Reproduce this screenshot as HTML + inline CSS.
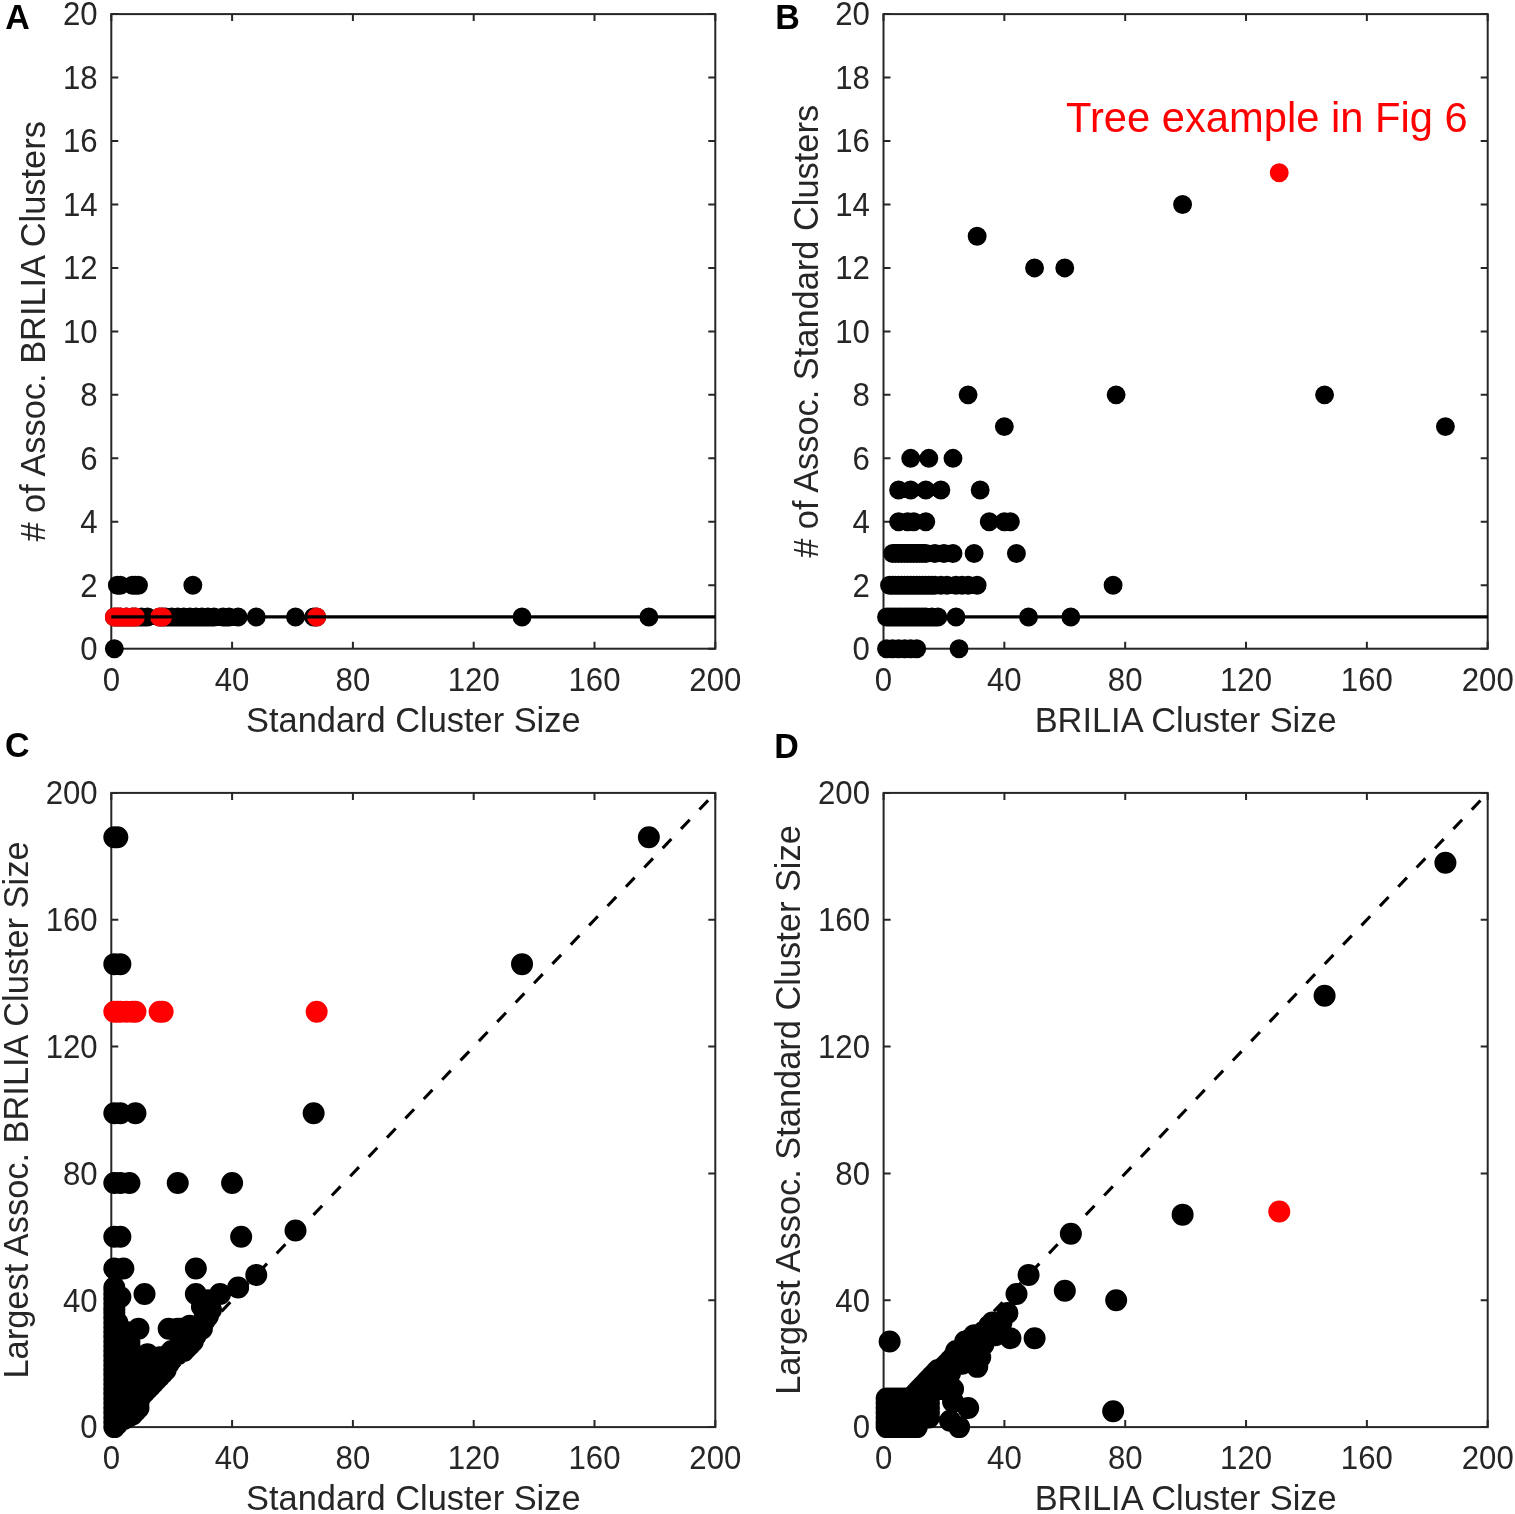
<!DOCTYPE html><html><head><meta charset="utf-8"><title>Cluster comparison</title><style>html,body{margin:0;padding:0;background:#fff;}svg{display:block;}text{font-family:"Liberation Sans",Arial,Helvetica,sans-serif;}</style></head><body>
<svg width="1515" height="1514" viewBox="0 0 1515 1514">
<rect width="1515" height="1514" fill="#fff"/>
<path d="M111.3 648.7V641.7M111.3 14.1V21.1M232.1 648.7V641.7M232.1 14.1V21.1M352.9 648.7V641.7M352.9 14.1V21.1M473.7 648.7V641.7M473.7 14.1V21.1M594.5 648.7V641.7M594.5 14.1V21.1M715.3 648.7V641.7M715.3 14.1V21.1M111.3 648.7H118.3M715.3 648.7H708.3M111.3 585.24H118.3M715.3 585.24H708.3M111.3 521.78H118.3M715.3 521.78H708.3M111.3 458.32H118.3M715.3 458.32H708.3M111.3 394.86H118.3M715.3 394.86H708.3M111.3 331.4H118.3M715.3 331.4H708.3M111.3 267.94H118.3M715.3 267.94H708.3M111.3 204.48H118.3M715.3 204.48H708.3M111.3 141.02H118.3M715.3 141.02H708.3M111.3 77.56H118.3M715.3 77.56H708.3M111.3 14.1H118.3M715.3 14.1H708.3" stroke="#262626" stroke-width="2.0" fill="none"/>
<rect x="111.3" y="14.1" width="604" height="634.6" stroke="#262626" stroke-width="2.0" fill="none"/>
<g font-size="31.2" fill="#262626"><text transform="translate(111.3 691) scale(1 1.04)" text-anchor="middle">0</text><text transform="translate(232.1 691) scale(1 1.04)" text-anchor="middle">40</text><text transform="translate(352.9 691) scale(1 1.04)" text-anchor="middle">80</text><text transform="translate(473.7 691) scale(1 1.04)" text-anchor="middle">120</text><text transform="translate(594.5 691) scale(1 1.04)" text-anchor="middle">160</text><text transform="translate(715.3 691) scale(1 1.04)" text-anchor="middle">200</text><text transform="translate(97.7 660) scale(1 1.04)" text-anchor="end">0</text><text transform="translate(97.7 596.54) scale(1 1.04)" text-anchor="end">2</text><text transform="translate(97.7 533.08) scale(1 1.04)" text-anchor="end">4</text><text transform="translate(97.7 469.62) scale(1 1.04)" text-anchor="end">6</text><text transform="translate(97.7 406.16) scale(1 1.04)" text-anchor="end">8</text><text transform="translate(97.7 342.7) scale(1 1.04)" text-anchor="end">10</text><text transform="translate(97.7 279.24) scale(1 1.04)" text-anchor="end">12</text><text transform="translate(97.7 215.78) scale(1 1.04)" text-anchor="end">14</text><text transform="translate(97.7 152.32) scale(1 1.04)" text-anchor="end">16</text><text transform="translate(97.7 88.86) scale(1 1.04)" text-anchor="end">18</text><text transform="translate(97.7 25.4) scale(1 1.04)" text-anchor="end">20</text></g>
<path d="M883.5 648.7V641.7M883.5 14.1V21.1M1004.34 648.7V641.7M1004.34 14.1V21.1M1125.18 648.7V641.7M1125.18 14.1V21.1M1246.02 648.7V641.7M1246.02 14.1V21.1M1366.86 648.7V641.7M1366.86 14.1V21.1M1487.7 648.7V641.7M1487.7 14.1V21.1M883.5 648.7H890.5M1487.7 648.7H1480.7M883.5 585.24H890.5M1487.7 585.24H1480.7M883.5 521.78H890.5M1487.7 521.78H1480.7M883.5 458.32H890.5M1487.7 458.32H1480.7M883.5 394.86H890.5M1487.7 394.86H1480.7M883.5 331.4H890.5M1487.7 331.4H1480.7M883.5 267.94H890.5M1487.7 267.94H1480.7M883.5 204.48H890.5M1487.7 204.48H1480.7M883.5 141.02H890.5M1487.7 141.02H1480.7M883.5 77.56H890.5M1487.7 77.56H1480.7M883.5 14.1H890.5M1487.7 14.1H1480.7" stroke="#262626" stroke-width="2.0" fill="none"/>
<rect x="883.5" y="14.1" width="604.2" height="634.6" stroke="#262626" stroke-width="2.0" fill="none"/>
<g font-size="31.2" fill="#262626"><text transform="translate(883.5 691) scale(1 1.04)" text-anchor="middle">0</text><text transform="translate(1004.34 691) scale(1 1.04)" text-anchor="middle">40</text><text transform="translate(1125.18 691) scale(1 1.04)" text-anchor="middle">80</text><text transform="translate(1246.02 691) scale(1 1.04)" text-anchor="middle">120</text><text transform="translate(1366.86 691) scale(1 1.04)" text-anchor="middle">160</text><text transform="translate(1487.7 691) scale(1 1.04)" text-anchor="middle">200</text><text transform="translate(869.9 660) scale(1 1.04)" text-anchor="end">0</text><text transform="translate(869.9 596.54) scale(1 1.04)" text-anchor="end">2</text><text transform="translate(869.9 533.08) scale(1 1.04)" text-anchor="end">4</text><text transform="translate(869.9 469.62) scale(1 1.04)" text-anchor="end">6</text><text transform="translate(869.9 406.16) scale(1 1.04)" text-anchor="end">8</text><text transform="translate(869.9 342.7) scale(1 1.04)" text-anchor="end">10</text><text transform="translate(869.9 279.24) scale(1 1.04)" text-anchor="end">12</text><text transform="translate(869.9 215.78) scale(1 1.04)" text-anchor="end">14</text><text transform="translate(869.9 152.32) scale(1 1.04)" text-anchor="end">16</text><text transform="translate(869.9 88.86) scale(1 1.04)" text-anchor="end">18</text><text transform="translate(869.9 25.4) scale(1 1.04)" text-anchor="end">20</text></g>
<path d="M111.3 1427.1V1420.1M111.3 792.9V799.9M232.1 1427.1V1420.1M232.1 792.9V799.9M352.9 1427.1V1420.1M352.9 792.9V799.9M473.7 1427.1V1420.1M473.7 792.9V799.9M594.5 1427.1V1420.1M594.5 792.9V799.9M715.3 1427.1V1420.1M715.3 792.9V799.9M111.3 1427.1H118.3M715.3 1427.1H708.3M111.3 1300.26H118.3M715.3 1300.26H708.3M111.3 1173.42H118.3M715.3 1173.42H708.3M111.3 1046.58H118.3M715.3 1046.58H708.3M111.3 919.74H118.3M715.3 919.74H708.3M111.3 792.9H118.3M715.3 792.9H708.3" stroke="#262626" stroke-width="2.0" fill="none"/>
<rect x="111.3" y="792.9" width="604" height="634.2" stroke="#262626" stroke-width="2.0" fill="none"/>
<g font-size="31.2" fill="#262626"><text transform="translate(111.3 1469.4) scale(1 1.04)" text-anchor="middle">0</text><text transform="translate(232.1 1469.4) scale(1 1.04)" text-anchor="middle">40</text><text transform="translate(352.9 1469.4) scale(1 1.04)" text-anchor="middle">80</text><text transform="translate(473.7 1469.4) scale(1 1.04)" text-anchor="middle">120</text><text transform="translate(594.5 1469.4) scale(1 1.04)" text-anchor="middle">160</text><text transform="translate(715.3 1469.4) scale(1 1.04)" text-anchor="middle">200</text><text transform="translate(97.7 1438.4) scale(1 1.04)" text-anchor="end">0</text><text transform="translate(97.7 1311.56) scale(1 1.04)" text-anchor="end">40</text><text transform="translate(97.7 1184.72) scale(1 1.04)" text-anchor="end">80</text><text transform="translate(97.7 1057.88) scale(1 1.04)" text-anchor="end">120</text><text transform="translate(97.7 931.04) scale(1 1.04)" text-anchor="end">160</text><text transform="translate(97.7 804.2) scale(1 1.04)" text-anchor="end">200</text></g>
<path d="M883.6 1427.1V1420.1M883.6 792.9V799.9M1004.42 1427.1V1420.1M1004.42 792.9V799.9M1125.24 1427.1V1420.1M1125.24 792.9V799.9M1246.06 1427.1V1420.1M1246.06 792.9V799.9M1366.88 1427.1V1420.1M1366.88 792.9V799.9M1487.7 1427.1V1420.1M1487.7 792.9V799.9M883.6 1427.1H890.6M1487.7 1427.1H1480.7M883.6 1300.26H890.6M1487.7 1300.26H1480.7M883.6 1173.42H890.6M1487.7 1173.42H1480.7M883.6 1046.58H890.6M1487.7 1046.58H1480.7M883.6 919.74H890.6M1487.7 919.74H1480.7M883.6 792.9H890.6M1487.7 792.9H1480.7" stroke="#262626" stroke-width="2.0" fill="none"/>
<rect x="883.6" y="792.9" width="604.1" height="634.2" stroke="#262626" stroke-width="2.0" fill="none"/>
<g font-size="31.2" fill="#262626"><text transform="translate(883.6 1469.4) scale(1 1.04)" text-anchor="middle">0</text><text transform="translate(1004.42 1469.4) scale(1 1.04)" text-anchor="middle">40</text><text transform="translate(1125.24 1469.4) scale(1 1.04)" text-anchor="middle">80</text><text transform="translate(1246.06 1469.4) scale(1 1.04)" text-anchor="middle">120</text><text transform="translate(1366.88 1469.4) scale(1 1.04)" text-anchor="middle">160</text><text transform="translate(1487.7 1469.4) scale(1 1.04)" text-anchor="middle">200</text><text transform="translate(870 1438.4) scale(1 1.04)" text-anchor="end">0</text><text transform="translate(870 1311.56) scale(1 1.04)" text-anchor="end">40</text><text transform="translate(870 1184.72) scale(1 1.04)" text-anchor="end">80</text><text transform="translate(870 1057.88) scale(1 1.04)" text-anchor="end">120</text><text transform="translate(870 931.04) scale(1 1.04)" text-anchor="end">160</text><text transform="translate(870 804.2) scale(1 1.04)" text-anchor="end">200</text></g>
<path fill="#000" d="M104.87 648.7a9.45 9.45 0 1 0 18.9 0a9.45 9.45 0 1 0 -18.9 0ZM107.89 585.24a9.45 9.45 0 1 0 18.9 0a9.45 9.45 0 1 0 -18.9 0ZM110.91 585.24a9.45 9.45 0 1 0 18.9 0a9.45 9.45 0 1 0 -18.9 0ZM122.99 585.24a9.45 9.45 0 1 0 18.9 0a9.45 9.45 0 1 0 -18.9 0ZM126.01 585.24a9.45 9.45 0 1 0 18.9 0a9.45 9.45 0 1 0 -18.9 0ZM129.03 585.24a9.45 9.45 0 1 0 18.9 0a9.45 9.45 0 1 0 -18.9 0ZM183.39 585.24a9.45 9.45 0 1 0 18.9 0a9.45 9.45 0 1 0 -18.9 0ZM104.87 616.97a9.45 9.45 0 1 0 18.9 0a9.45 9.45 0 1 0 -18.9 0ZM107.89 616.97a9.45 9.45 0 1 0 18.9 0a9.45 9.45 0 1 0 -18.9 0ZM110.91 616.97a9.45 9.45 0 1 0 18.9 0a9.45 9.45 0 1 0 -18.9 0ZM116.95 616.97a9.45 9.45 0 1 0 18.9 0a9.45 9.45 0 1 0 -18.9 0ZM122.99 616.97a9.45 9.45 0 1 0 18.9 0a9.45 9.45 0 1 0 -18.9 0ZM126.01 616.97a9.45 9.45 0 1 0 18.9 0a9.45 9.45 0 1 0 -18.9 0ZM150.17 616.97a9.45 9.45 0 1 0 18.9 0a9.45 9.45 0 1 0 -18.9 0ZM153.19 616.97a9.45 9.45 0 1 0 18.9 0a9.45 9.45 0 1 0 -18.9 0ZM307.21 616.97a9.45 9.45 0 1 0 18.9 0a9.45 9.45 0 1 0 -18.9 0ZM132.05 616.97a9.45 9.45 0 1 0 18.9 0a9.45 9.45 0 1 0 -18.9 0ZM138.09 616.97a9.45 9.45 0 1 0 18.9 0a9.45 9.45 0 1 0 -18.9 0ZM156.21 616.97a9.45 9.45 0 1 0 18.9 0a9.45 9.45 0 1 0 -18.9 0ZM162.25 616.97a9.45 9.45 0 1 0 18.9 0a9.45 9.45 0 1 0 -18.9 0ZM168.29 616.97a9.45 9.45 0 1 0 18.9 0a9.45 9.45 0 1 0 -18.9 0ZM174.33 616.97a9.45 9.45 0 1 0 18.9 0a9.45 9.45 0 1 0 -18.9 0ZM180.37 616.97a9.45 9.45 0 1 0 18.9 0a9.45 9.45 0 1 0 -18.9 0ZM186.41 616.97a9.45 9.45 0 1 0 18.9 0a9.45 9.45 0 1 0 -18.9 0ZM192.45 616.97a9.45 9.45 0 1 0 18.9 0a9.45 9.45 0 1 0 -18.9 0ZM198.49 616.97a9.45 9.45 0 1 0 18.9 0a9.45 9.45 0 1 0 -18.9 0ZM204.53 616.97a9.45 9.45 0 1 0 18.9 0a9.45 9.45 0 1 0 -18.9 0ZM213.59 616.97a9.45 9.45 0 1 0 18.9 0a9.45 9.45 0 1 0 -18.9 0ZM219.63 616.97a9.45 9.45 0 1 0 18.9 0a9.45 9.45 0 1 0 -18.9 0ZM228.69 616.97a9.45 9.45 0 1 0 18.9 0a9.45 9.45 0 1 0 -18.9 0ZM246.81 616.97a9.45 9.45 0 1 0 18.9 0a9.45 9.45 0 1 0 -18.9 0ZM286.07 616.97a9.45 9.45 0 1 0 18.9 0a9.45 9.45 0 1 0 -18.9 0ZM304.19 616.97a9.45 9.45 0 1 0 18.9 0a9.45 9.45 0 1 0 -18.9 0ZM512.57 616.97a9.45 9.45 0 1 0 18.9 0a9.45 9.45 0 1 0 -18.9 0ZM639.41 616.97a9.45 9.45 0 1 0 18.9 0a9.45 9.45 0 1 0 -18.9 0Z"/>
<path fill="#f00" d="M104.87 616.97a9.45 9.45 0 1 0 18.9 0a9.45 9.45 0 1 0 -18.9 0ZM107.89 616.97a9.45 9.45 0 1 0 18.9 0a9.45 9.45 0 1 0 -18.9 0ZM110.91 616.97a9.45 9.45 0 1 0 18.9 0a9.45 9.45 0 1 0 -18.9 0ZM116.95 616.97a9.45 9.45 0 1 0 18.9 0a9.45 9.45 0 1 0 -18.9 0ZM122.99 616.97a9.45 9.45 0 1 0 18.9 0a9.45 9.45 0 1 0 -18.9 0ZM126.01 616.97a9.45 9.45 0 1 0 18.9 0a9.45 9.45 0 1 0 -18.9 0ZM150.17 616.97a9.45 9.45 0 1 0 18.9 0a9.45 9.45 0 1 0 -18.9 0ZM153.19 616.97a9.45 9.45 0 1 0 18.9 0a9.45 9.45 0 1 0 -18.9 0ZM307.21 616.97a9.45 9.45 0 1 0 18.9 0a9.45 9.45 0 1 0 -18.9 0Z"/>
<line x1="111.3" y1="616.97" x2="715.3" y2="616.97" stroke="#000" stroke-width="3.2"/>
<path fill="#000" d="M877.07 648.7a9.45 9.45 0 1 0 18.9 0a9.45 9.45 0 1 0 -18.9 0ZM883.11 648.7a9.45 9.45 0 1 0 18.9 0a9.45 9.45 0 1 0 -18.9 0ZM889.15 648.7a9.45 9.45 0 1 0 18.9 0a9.45 9.45 0 1 0 -18.9 0ZM895.2 648.7a9.45 9.45 0 1 0 18.9 0a9.45 9.45 0 1 0 -18.9 0ZM901.24 648.7a9.45 9.45 0 1 0 18.9 0a9.45 9.45 0 1 0 -18.9 0ZM907.28 648.7a9.45 9.45 0 1 0 18.9 0a9.45 9.45 0 1 0 -18.9 0ZM949.57 648.7a9.45 9.45 0 1 0 18.9 0a9.45 9.45 0 1 0 -18.9 0ZM877.07 616.97a9.45 9.45 0 1 0 18.9 0a9.45 9.45 0 1 0 -18.9 0ZM880.09 616.97a9.45 9.45 0 1 0 18.9 0a9.45 9.45 0 1 0 -18.9 0ZM883.11 616.97a9.45 9.45 0 1 0 18.9 0a9.45 9.45 0 1 0 -18.9 0ZM886.13 616.97a9.45 9.45 0 1 0 18.9 0a9.45 9.45 0 1 0 -18.9 0ZM889.15 616.97a9.45 9.45 0 1 0 18.9 0a9.45 9.45 0 1 0 -18.9 0ZM892.18 616.97a9.45 9.45 0 1 0 18.9 0a9.45 9.45 0 1 0 -18.9 0ZM895.2 616.97a9.45 9.45 0 1 0 18.9 0a9.45 9.45 0 1 0 -18.9 0ZM898.22 616.97a9.45 9.45 0 1 0 18.9 0a9.45 9.45 0 1 0 -18.9 0ZM901.24 616.97a9.45 9.45 0 1 0 18.9 0a9.45 9.45 0 1 0 -18.9 0ZM904.26 616.97a9.45 9.45 0 1 0 18.9 0a9.45 9.45 0 1 0 -18.9 0ZM907.28 616.97a9.45 9.45 0 1 0 18.9 0a9.45 9.45 0 1 0 -18.9 0ZM910.3 616.97a9.45 9.45 0 1 0 18.9 0a9.45 9.45 0 1 0 -18.9 0ZM913.32 616.97a9.45 9.45 0 1 0 18.9 0a9.45 9.45 0 1 0 -18.9 0ZM916.34 616.97a9.45 9.45 0 1 0 18.9 0a9.45 9.45 0 1 0 -18.9 0ZM922.39 616.97a9.45 9.45 0 1 0 18.9 0a9.45 9.45 0 1 0 -18.9 0ZM928.43 616.97a9.45 9.45 0 1 0 18.9 0a9.45 9.45 0 1 0 -18.9 0ZM946.55 616.97a9.45 9.45 0 1 0 18.9 0a9.45 9.45 0 1 0 -18.9 0ZM1019.06 616.97a9.45 9.45 0 1 0 18.9 0a9.45 9.45 0 1 0 -18.9 0ZM1061.35 616.97a9.45 9.45 0 1 0 18.9 0a9.45 9.45 0 1 0 -18.9 0ZM880.09 585.24a9.45 9.45 0 1 0 18.9 0a9.45 9.45 0 1 0 -18.9 0ZM883.11 585.24a9.45 9.45 0 1 0 18.9 0a9.45 9.45 0 1 0 -18.9 0ZM886.13 585.24a9.45 9.45 0 1 0 18.9 0a9.45 9.45 0 1 0 -18.9 0ZM889.15 585.24a9.45 9.45 0 1 0 18.9 0a9.45 9.45 0 1 0 -18.9 0ZM892.18 585.24a9.45 9.45 0 1 0 18.9 0a9.45 9.45 0 1 0 -18.9 0ZM895.2 585.24a9.45 9.45 0 1 0 18.9 0a9.45 9.45 0 1 0 -18.9 0ZM898.22 585.24a9.45 9.45 0 1 0 18.9 0a9.45 9.45 0 1 0 -18.9 0ZM901.24 585.24a9.45 9.45 0 1 0 18.9 0a9.45 9.45 0 1 0 -18.9 0ZM904.26 585.24a9.45 9.45 0 1 0 18.9 0a9.45 9.45 0 1 0 -18.9 0ZM907.28 585.24a9.45 9.45 0 1 0 18.9 0a9.45 9.45 0 1 0 -18.9 0ZM910.3 585.24a9.45 9.45 0 1 0 18.9 0a9.45 9.45 0 1 0 -18.9 0ZM913.32 585.24a9.45 9.45 0 1 0 18.9 0a9.45 9.45 0 1 0 -18.9 0ZM916.34 585.24a9.45 9.45 0 1 0 18.9 0a9.45 9.45 0 1 0 -18.9 0ZM919.37 585.24a9.45 9.45 0 1 0 18.9 0a9.45 9.45 0 1 0 -18.9 0ZM922.39 585.24a9.45 9.45 0 1 0 18.9 0a9.45 9.45 0 1 0 -18.9 0ZM925.41 585.24a9.45 9.45 0 1 0 18.9 0a9.45 9.45 0 1 0 -18.9 0ZM931.45 585.24a9.45 9.45 0 1 0 18.9 0a9.45 9.45 0 1 0 -18.9 0ZM937.49 585.24a9.45 9.45 0 1 0 18.9 0a9.45 9.45 0 1 0 -18.9 0ZM946.55 585.24a9.45 9.45 0 1 0 18.9 0a9.45 9.45 0 1 0 -18.9 0ZM952.6 585.24a9.45 9.45 0 1 0 18.9 0a9.45 9.45 0 1 0 -18.9 0ZM958.64 585.24a9.45 9.45 0 1 0 18.9 0a9.45 9.45 0 1 0 -18.9 0ZM967.7 585.24a9.45 9.45 0 1 0 18.9 0a9.45 9.45 0 1 0 -18.9 0ZM1103.65 585.24a9.45 9.45 0 1 0 18.9 0a9.45 9.45 0 1 0 -18.9 0ZM883.11 553.51a9.45 9.45 0 1 0 18.9 0a9.45 9.45 0 1 0 -18.9 0ZM886.13 553.51a9.45 9.45 0 1 0 18.9 0a9.45 9.45 0 1 0 -18.9 0ZM889.15 553.51a9.45 9.45 0 1 0 18.9 0a9.45 9.45 0 1 0 -18.9 0ZM892.18 553.51a9.45 9.45 0 1 0 18.9 0a9.45 9.45 0 1 0 -18.9 0ZM895.2 553.51a9.45 9.45 0 1 0 18.9 0a9.45 9.45 0 1 0 -18.9 0ZM898.22 553.51a9.45 9.45 0 1 0 18.9 0a9.45 9.45 0 1 0 -18.9 0ZM901.24 553.51a9.45 9.45 0 1 0 18.9 0a9.45 9.45 0 1 0 -18.9 0ZM904.26 553.51a9.45 9.45 0 1 0 18.9 0a9.45 9.45 0 1 0 -18.9 0ZM907.28 553.51a9.45 9.45 0 1 0 18.9 0a9.45 9.45 0 1 0 -18.9 0ZM910.3 553.51a9.45 9.45 0 1 0 18.9 0a9.45 9.45 0 1 0 -18.9 0ZM913.32 553.51a9.45 9.45 0 1 0 18.9 0a9.45 9.45 0 1 0 -18.9 0ZM916.34 553.51a9.45 9.45 0 1 0 18.9 0a9.45 9.45 0 1 0 -18.9 0ZM925.41 553.51a9.45 9.45 0 1 0 18.9 0a9.45 9.45 0 1 0 -18.9 0ZM934.47 553.51a9.45 9.45 0 1 0 18.9 0a9.45 9.45 0 1 0 -18.9 0ZM943.53 553.51a9.45 9.45 0 1 0 18.9 0a9.45 9.45 0 1 0 -18.9 0ZM964.68 553.51a9.45 9.45 0 1 0 18.9 0a9.45 9.45 0 1 0 -18.9 0ZM1006.97 553.51a9.45 9.45 0 1 0 18.9 0a9.45 9.45 0 1 0 -18.9 0ZM889.15 521.78a9.45 9.45 0 1 0 18.9 0a9.45 9.45 0 1 0 -18.9 0ZM898.22 521.78a9.45 9.45 0 1 0 18.9 0a9.45 9.45 0 1 0 -18.9 0ZM904.26 521.78a9.45 9.45 0 1 0 18.9 0a9.45 9.45 0 1 0 -18.9 0ZM916.34 521.78a9.45 9.45 0 1 0 18.9 0a9.45 9.45 0 1 0 -18.9 0ZM979.78 521.78a9.45 9.45 0 1 0 18.9 0a9.45 9.45 0 1 0 -18.9 0ZM994.89 521.78a9.45 9.45 0 1 0 18.9 0a9.45 9.45 0 1 0 -18.9 0ZM1000.93 521.78a9.45 9.45 0 1 0 18.9 0a9.45 9.45 0 1 0 -18.9 0ZM889.15 490.05a9.45 9.45 0 1 0 18.9 0a9.45 9.45 0 1 0 -18.9 0ZM901.24 490.05a9.45 9.45 0 1 0 18.9 0a9.45 9.45 0 1 0 -18.9 0ZM916.34 490.05a9.45 9.45 0 1 0 18.9 0a9.45 9.45 0 1 0 -18.9 0ZM931.45 490.05a9.45 9.45 0 1 0 18.9 0a9.45 9.45 0 1 0 -18.9 0ZM970.72 490.05a9.45 9.45 0 1 0 18.9 0a9.45 9.45 0 1 0 -18.9 0ZM901.24 458.32a9.45 9.45 0 1 0 18.9 0a9.45 9.45 0 1 0 -18.9 0ZM919.37 458.32a9.45 9.45 0 1 0 18.9 0a9.45 9.45 0 1 0 -18.9 0ZM943.53 458.32a9.45 9.45 0 1 0 18.9 0a9.45 9.45 0 1 0 -18.9 0ZM994.89 426.59a9.45 9.45 0 1 0 18.9 0a9.45 9.45 0 1 0 -18.9 0ZM1435.96 426.59a9.45 9.45 0 1 0 18.9 0a9.45 9.45 0 1 0 -18.9 0ZM958.64 394.86a9.45 9.45 0 1 0 18.9 0a9.45 9.45 0 1 0 -18.9 0ZM1106.67 394.86a9.45 9.45 0 1 0 18.9 0a9.45 9.45 0 1 0 -18.9 0ZM1315.12 394.86a9.45 9.45 0 1 0 18.9 0a9.45 9.45 0 1 0 -18.9 0ZM1025.1 267.94a9.45 9.45 0 1 0 18.9 0a9.45 9.45 0 1 0 -18.9 0ZM1055.31 267.94a9.45 9.45 0 1 0 18.9 0a9.45 9.45 0 1 0 -18.9 0ZM967.7 236.21a9.45 9.45 0 1 0 18.9 0a9.45 9.45 0 1 0 -18.9 0ZM1173.13 204.48a9.45 9.45 0 1 0 18.9 0a9.45 9.45 0 1 0 -18.9 0Z"/>
<path fill="#f00" d="M1269.8 172.75a9.45 9.45 0 1 0 18.9 0a9.45 9.45 0 1 0 -18.9 0Z"/>
<line x1="883.5" y1="616.97" x2="1487.7" y2="616.97" stroke="#000" stroke-width="3.2"/>
<path fill="#000" d="M103.32 837.29a11 11 0 1 0 22 0a11 11 0 1 0 -22 0ZM106.34 837.29a11 11 0 1 0 22 0a11 11 0 1 0 -22 0ZM637.86 837.29a11 11 0 1 0 22 0a11 11 0 1 0 -22 0ZM103.32 964.13a11 11 0 1 0 22 0a11 11 0 1 0 -22 0ZM109.36 964.13a11 11 0 1 0 22 0a11 11 0 1 0 -22 0ZM511.02 964.13a11 11 0 1 0 22 0a11 11 0 1 0 -22 0ZM103.32 1113.17a11 11 0 1 0 22 0a11 11 0 1 0 -22 0ZM109.36 1113.17a11 11 0 1 0 22 0a11 11 0 1 0 -22 0ZM124.46 1113.17a11 11 0 1 0 22 0a11 11 0 1 0 -22 0ZM302.64 1113.17a11 11 0 1 0 22 0a11 11 0 1 0 -22 0ZM103.32 1182.93a11 11 0 1 0 22 0a11 11 0 1 0 -22 0ZM109.36 1182.93a11 11 0 1 0 22 0a11 11 0 1 0 -22 0ZM118.42 1182.93a11 11 0 1 0 22 0a11 11 0 1 0 -22 0ZM166.74 1182.93a11 11 0 1 0 22 0a11 11 0 1 0 -22 0ZM221.1 1182.93a11 11 0 1 0 22 0a11 11 0 1 0 -22 0ZM103.32 1236.84a11 11 0 1 0 22 0a11 11 0 1 0 -22 0ZM109.36 1236.84a11 11 0 1 0 22 0a11 11 0 1 0 -22 0ZM230.16 1236.84a11 11 0 1 0 22 0a11 11 0 1 0 -22 0ZM284.52 1230.5a11 11 0 1 0 22 0a11 11 0 1 0 -22 0ZM103.32 1268.55a11 11 0 1 0 22 0a11 11 0 1 0 -22 0ZM112.38 1268.55a11 11 0 1 0 22 0a11 11 0 1 0 -22 0ZM184.86 1268.55a11 11 0 1 0 22 0a11 11 0 1 0 -22 0ZM245.26 1274.89a11 11 0 1 0 22 0a11 11 0 1 0 -22 0ZM133.52 1293.92a11 11 0 1 0 22 0a11 11 0 1 0 -22 0ZM184.86 1293.92a11 11 0 1 0 22 0a11 11 0 1 0 -22 0ZM209.02 1293.92a11 11 0 1 0 22 0a11 11 0 1 0 -22 0ZM227.14 1287.58a11 11 0 1 0 22 0a11 11 0 1 0 -22 0ZM196.94 1300.26a11 11 0 1 0 22 0a11 11 0 1 0 -22 0ZM199.96 1309.77a11 11 0 1 0 22 0a11 11 0 1 0 -22 0ZM190.9 1306.6a11 11 0 1 0 22 0a11 11 0 1 0 -22 0ZM127.48 1328.8a11 11 0 1 0 22 0a11 11 0 1 0 -22 0ZM157.68 1328.8a11 11 0 1 0 22 0a11 11 0 1 0 -22 0ZM166.74 1328.8a11 11 0 1 0 22 0a11 11 0 1 0 -22 0ZM178.82 1325.63a11 11 0 1 0 22 0a11 11 0 1 0 -22 0ZM187.88 1328.8a11 11 0 1 0 22 0a11 11 0 1 0 -22 0ZM196.94 1316.12a11 11 0 1 0 22 0a11 11 0 1 0 -22 0ZM136.54 1354.17a11 11 0 1 0 22 0a11 11 0 1 0 -22 0ZM148.62 1357.34a11 11 0 1 0 22 0a11 11 0 1 0 -22 0ZM160.7 1351a11 11 0 1 0 22 0a11 11 0 1 0 -22 0ZM154.66 1370.02a11 11 0 1 0 22 0a11 11 0 1 0 -22 0ZM172.78 1351a11 11 0 1 0 22 0a11 11 0 1 0 -22 0ZM181.84 1341.48a11 11 0 1 0 22 0a11 11 0 1 0 -22 0ZM103.32 1287.58a11 11 0 1 0 22 0a11 11 0 1 0 -22 0ZM109.36 1297.09a11 11 0 1 0 22 0a11 11 0 1 0 -22 0ZM103.32 1309.77a11 11 0 1 0 22 0a11 11 0 1 0 -22 0ZM106.34 1322.46a11 11 0 1 0 22 0a11 11 0 1 0 -22 0ZM103.32 1427.1a11 11 0 1 0 22 0a11 11 0 1 0 -22 0ZM103.32 1422.34a11 11 0 1 0 22 0a11 11 0 1 0 -22 0ZM103.32 1417.59a11 11 0 1 0 22 0a11 11 0 1 0 -22 0ZM103.32 1412.83a11 11 0 1 0 22 0a11 11 0 1 0 -22 0ZM103.32 1408.07a11 11 0 1 0 22 0a11 11 0 1 0 -22 0ZM103.32 1403.32a11 11 0 1 0 22 0a11 11 0 1 0 -22 0ZM103.32 1398.56a11 11 0 1 0 22 0a11 11 0 1 0 -22 0ZM103.32 1393.8a11 11 0 1 0 22 0a11 11 0 1 0 -22 0ZM103.32 1389.05a11 11 0 1 0 22 0a11 11 0 1 0 -22 0ZM103.32 1384.29a11 11 0 1 0 22 0a11 11 0 1 0 -22 0ZM103.32 1379.53a11 11 0 1 0 22 0a11 11 0 1 0 -22 0ZM103.32 1374.78a11 11 0 1 0 22 0a11 11 0 1 0 -22 0ZM103.32 1370.02a11 11 0 1 0 22 0a11 11 0 1 0 -22 0ZM103.32 1365.27a11 11 0 1 0 22 0a11 11 0 1 0 -22 0ZM103.32 1360.51a11 11 0 1 0 22 0a11 11 0 1 0 -22 0ZM103.32 1355.75a11 11 0 1 0 22 0a11 11 0 1 0 -22 0ZM103.32 1351a11 11 0 1 0 22 0a11 11 0 1 0 -22 0ZM103.32 1346.24a11 11 0 1 0 22 0a11 11 0 1 0 -22 0ZM103.32 1341.48a11 11 0 1 0 22 0a11 11 0 1 0 -22 0ZM103.32 1336.73a11 11 0 1 0 22 0a11 11 0 1 0 -22 0ZM103.32 1331.97a11 11 0 1 0 22 0a11 11 0 1 0 -22 0ZM103.32 1327.21a11 11 0 1 0 22 0a11 11 0 1 0 -22 0ZM103.32 1322.46a11 11 0 1 0 22 0a11 11 0 1 0 -22 0ZM103.32 1317.7a11 11 0 1 0 22 0a11 11 0 1 0 -22 0ZM103.32 1312.94a11 11 0 1 0 22 0a11 11 0 1 0 -22 0ZM103.32 1308.19a11 11 0 1 0 22 0a11 11 0 1 0 -22 0ZM103.32 1303.43a11 11 0 1 0 22 0a11 11 0 1 0 -22 0ZM103.32 1298.67a11 11 0 1 0 22 0a11 11 0 1 0 -22 0ZM103.32 1293.92a11 11 0 1 0 22 0a11 11 0 1 0 -22 0ZM103.32 1289.16a11 11 0 1 0 22 0a11 11 0 1 0 -22 0ZM106.34 1423.93a11 11 0 1 0 22 0a11 11 0 1 0 -22 0ZM106.34 1419.17a11 11 0 1 0 22 0a11 11 0 1 0 -22 0ZM106.34 1414.42a11 11 0 1 0 22 0a11 11 0 1 0 -22 0ZM106.34 1409.66a11 11 0 1 0 22 0a11 11 0 1 0 -22 0ZM106.34 1404.9a11 11 0 1 0 22 0a11 11 0 1 0 -22 0ZM106.34 1400.15a11 11 0 1 0 22 0a11 11 0 1 0 -22 0ZM106.34 1395.39a11 11 0 1 0 22 0a11 11 0 1 0 -22 0ZM106.34 1390.63a11 11 0 1 0 22 0a11 11 0 1 0 -22 0ZM106.34 1385.88a11 11 0 1 0 22 0a11 11 0 1 0 -22 0ZM106.34 1381.12a11 11 0 1 0 22 0a11 11 0 1 0 -22 0ZM106.34 1376.36a11 11 0 1 0 22 0a11 11 0 1 0 -22 0ZM106.34 1371.61a11 11 0 1 0 22 0a11 11 0 1 0 -22 0ZM106.34 1366.85a11 11 0 1 0 22 0a11 11 0 1 0 -22 0ZM106.34 1362.09a11 11 0 1 0 22 0a11 11 0 1 0 -22 0ZM106.34 1357.34a11 11 0 1 0 22 0a11 11 0 1 0 -22 0ZM106.34 1352.58a11 11 0 1 0 22 0a11 11 0 1 0 -22 0ZM106.34 1347.82a11 11 0 1 0 22 0a11 11 0 1 0 -22 0ZM106.34 1343.07a11 11 0 1 0 22 0a11 11 0 1 0 -22 0ZM106.34 1338.31a11 11 0 1 0 22 0a11 11 0 1 0 -22 0ZM106.34 1333.56a11 11 0 1 0 22 0a11 11 0 1 0 -22 0ZM106.34 1331.97a11 11 0 1 0 22 0a11 11 0 1 0 -22 0ZM109.36 1420.76a11 11 0 1 0 22 0a11 11 0 1 0 -22 0ZM109.36 1416a11 11 0 1 0 22 0a11 11 0 1 0 -22 0ZM109.36 1411.24a11 11 0 1 0 22 0a11 11 0 1 0 -22 0ZM109.36 1406.49a11 11 0 1 0 22 0a11 11 0 1 0 -22 0ZM109.36 1401.73a11 11 0 1 0 22 0a11 11 0 1 0 -22 0ZM109.36 1396.98a11 11 0 1 0 22 0a11 11 0 1 0 -22 0ZM109.36 1392.22a11 11 0 1 0 22 0a11 11 0 1 0 -22 0ZM109.36 1387.46a11 11 0 1 0 22 0a11 11 0 1 0 -22 0ZM109.36 1382.71a11 11 0 1 0 22 0a11 11 0 1 0 -22 0ZM109.36 1377.95a11 11 0 1 0 22 0a11 11 0 1 0 -22 0ZM109.36 1373.19a11 11 0 1 0 22 0a11 11 0 1 0 -22 0ZM109.36 1368.44a11 11 0 1 0 22 0a11 11 0 1 0 -22 0ZM109.36 1363.68a11 11 0 1 0 22 0a11 11 0 1 0 -22 0ZM109.36 1358.92a11 11 0 1 0 22 0a11 11 0 1 0 -22 0ZM109.36 1354.17a11 11 0 1 0 22 0a11 11 0 1 0 -22 0ZM109.36 1349.41a11 11 0 1 0 22 0a11 11 0 1 0 -22 0ZM109.36 1344.65a11 11 0 1 0 22 0a11 11 0 1 0 -22 0ZM109.36 1339.9a11 11 0 1 0 22 0a11 11 0 1 0 -22 0ZM109.36 1335.14a11 11 0 1 0 22 0a11 11 0 1 0 -22 0ZM109.36 1331.97a11 11 0 1 0 22 0a11 11 0 1 0 -22 0ZM112.38 1419.17a11 11 0 1 0 22 0a11 11 0 1 0 -22 0ZM112.38 1414.42a11 11 0 1 0 22 0a11 11 0 1 0 -22 0ZM112.38 1409.66a11 11 0 1 0 22 0a11 11 0 1 0 -22 0ZM112.38 1404.9a11 11 0 1 0 22 0a11 11 0 1 0 -22 0ZM112.38 1400.15a11 11 0 1 0 22 0a11 11 0 1 0 -22 0ZM112.38 1395.39a11 11 0 1 0 22 0a11 11 0 1 0 -22 0ZM112.38 1390.63a11 11 0 1 0 22 0a11 11 0 1 0 -22 0ZM112.38 1385.88a11 11 0 1 0 22 0a11 11 0 1 0 -22 0ZM112.38 1381.12a11 11 0 1 0 22 0a11 11 0 1 0 -22 0ZM112.38 1376.36a11 11 0 1 0 22 0a11 11 0 1 0 -22 0ZM112.38 1371.61a11 11 0 1 0 22 0a11 11 0 1 0 -22 0ZM112.38 1366.85a11 11 0 1 0 22 0a11 11 0 1 0 -22 0ZM112.38 1362.09a11 11 0 1 0 22 0a11 11 0 1 0 -22 0ZM112.38 1357.34a11 11 0 1 0 22 0a11 11 0 1 0 -22 0ZM112.38 1352.58a11 11 0 1 0 22 0a11 11 0 1 0 -22 0ZM112.38 1347.82a11 11 0 1 0 22 0a11 11 0 1 0 -22 0ZM112.38 1343.07a11 11 0 1 0 22 0a11 11 0 1 0 -22 0ZM112.38 1338.31a11 11 0 1 0 22 0a11 11 0 1 0 -22 0ZM112.38 1333.56a11 11 0 1 0 22 0a11 11 0 1 0 -22 0ZM112.38 1331.97a11 11 0 1 0 22 0a11 11 0 1 0 -22 0ZM115.4 1417.59a11 11 0 1 0 22 0a11 11 0 1 0 -22 0ZM115.4 1412.83a11 11 0 1 0 22 0a11 11 0 1 0 -22 0ZM115.4 1408.07a11 11 0 1 0 22 0a11 11 0 1 0 -22 0ZM115.4 1403.32a11 11 0 1 0 22 0a11 11 0 1 0 -22 0ZM115.4 1398.56a11 11 0 1 0 22 0a11 11 0 1 0 -22 0ZM115.4 1393.8a11 11 0 1 0 22 0a11 11 0 1 0 -22 0ZM115.4 1389.05a11 11 0 1 0 22 0a11 11 0 1 0 -22 0ZM115.4 1384.29a11 11 0 1 0 22 0a11 11 0 1 0 -22 0ZM115.4 1379.53a11 11 0 1 0 22 0a11 11 0 1 0 -22 0ZM115.4 1374.78a11 11 0 1 0 22 0a11 11 0 1 0 -22 0ZM115.4 1370.02a11 11 0 1 0 22 0a11 11 0 1 0 -22 0ZM115.4 1365.27a11 11 0 1 0 22 0a11 11 0 1 0 -22 0ZM115.4 1360.51a11 11 0 1 0 22 0a11 11 0 1 0 -22 0ZM115.4 1355.75a11 11 0 1 0 22 0a11 11 0 1 0 -22 0ZM115.4 1351a11 11 0 1 0 22 0a11 11 0 1 0 -22 0ZM115.4 1346.24a11 11 0 1 0 22 0a11 11 0 1 0 -22 0ZM115.4 1341.48a11 11 0 1 0 22 0a11 11 0 1 0 -22 0ZM115.4 1336.73a11 11 0 1 0 22 0a11 11 0 1 0 -22 0ZM115.4 1331.97a11 11 0 1 0 22 0a11 11 0 1 0 -22 0ZM118.42 1416a11 11 0 1 0 22 0a11 11 0 1 0 -22 0ZM118.42 1411.24a11 11 0 1 0 22 0a11 11 0 1 0 -22 0ZM118.42 1406.49a11 11 0 1 0 22 0a11 11 0 1 0 -22 0ZM118.42 1401.73a11 11 0 1 0 22 0a11 11 0 1 0 -22 0ZM118.42 1396.98a11 11 0 1 0 22 0a11 11 0 1 0 -22 0ZM118.42 1392.22a11 11 0 1 0 22 0a11 11 0 1 0 -22 0ZM118.42 1387.46a11 11 0 1 0 22 0a11 11 0 1 0 -22 0ZM118.42 1382.71a11 11 0 1 0 22 0a11 11 0 1 0 -22 0ZM118.42 1377.95a11 11 0 1 0 22 0a11 11 0 1 0 -22 0ZM118.42 1373.19a11 11 0 1 0 22 0a11 11 0 1 0 -22 0ZM118.42 1368.44a11 11 0 1 0 22 0a11 11 0 1 0 -22 0ZM118.42 1363.68a11 11 0 1 0 22 0a11 11 0 1 0 -22 0ZM118.42 1358.92a11 11 0 1 0 22 0a11 11 0 1 0 -22 0ZM118.42 1354.17a11 11 0 1 0 22 0a11 11 0 1 0 -22 0ZM118.42 1349.41a11 11 0 1 0 22 0a11 11 0 1 0 -22 0ZM118.42 1344.65a11 11 0 1 0 22 0a11 11 0 1 0 -22 0ZM118.42 1341.48a11 11 0 1 0 22 0a11 11 0 1 0 -22 0ZM121.44 1414.42a11 11 0 1 0 22 0a11 11 0 1 0 -22 0ZM121.44 1409.66a11 11 0 1 0 22 0a11 11 0 1 0 -22 0ZM121.44 1404.9a11 11 0 1 0 22 0a11 11 0 1 0 -22 0ZM121.44 1400.15a11 11 0 1 0 22 0a11 11 0 1 0 -22 0ZM121.44 1395.39a11 11 0 1 0 22 0a11 11 0 1 0 -22 0ZM121.44 1390.63a11 11 0 1 0 22 0a11 11 0 1 0 -22 0ZM121.44 1385.88a11 11 0 1 0 22 0a11 11 0 1 0 -22 0ZM121.44 1381.12a11 11 0 1 0 22 0a11 11 0 1 0 -22 0ZM121.44 1376.36a11 11 0 1 0 22 0a11 11 0 1 0 -22 0ZM121.44 1371.61a11 11 0 1 0 22 0a11 11 0 1 0 -22 0ZM121.44 1366.85a11 11 0 1 0 22 0a11 11 0 1 0 -22 0ZM121.44 1362.09a11 11 0 1 0 22 0a11 11 0 1 0 -22 0ZM121.44 1357.34a11 11 0 1 0 22 0a11 11 0 1 0 -22 0ZM124.46 1411.24a11 11 0 1 0 22 0a11 11 0 1 0 -22 0ZM124.46 1406.49a11 11 0 1 0 22 0a11 11 0 1 0 -22 0ZM124.46 1401.73a11 11 0 1 0 22 0a11 11 0 1 0 -22 0ZM124.46 1396.98a11 11 0 1 0 22 0a11 11 0 1 0 -22 0ZM124.46 1392.22a11 11 0 1 0 22 0a11 11 0 1 0 -22 0ZM124.46 1387.46a11 11 0 1 0 22 0a11 11 0 1 0 -22 0ZM124.46 1382.71a11 11 0 1 0 22 0a11 11 0 1 0 -22 0ZM124.46 1377.95a11 11 0 1 0 22 0a11 11 0 1 0 -22 0ZM124.46 1373.19a11 11 0 1 0 22 0a11 11 0 1 0 -22 0ZM124.46 1368.44a11 11 0 1 0 22 0a11 11 0 1 0 -22 0ZM124.46 1363.68a11 11 0 1 0 22 0a11 11 0 1 0 -22 0ZM124.46 1358.92a11 11 0 1 0 22 0a11 11 0 1 0 -22 0ZM124.46 1357.34a11 11 0 1 0 22 0a11 11 0 1 0 -22 0ZM127.48 1408.07a11 11 0 1 0 22 0a11 11 0 1 0 -22 0ZM127.48 1403.32a11 11 0 1 0 22 0a11 11 0 1 0 -22 0ZM127.48 1398.56a11 11 0 1 0 22 0a11 11 0 1 0 -22 0ZM127.48 1393.8a11 11 0 1 0 22 0a11 11 0 1 0 -22 0ZM127.48 1389.05a11 11 0 1 0 22 0a11 11 0 1 0 -22 0ZM127.48 1384.29a11 11 0 1 0 22 0a11 11 0 1 0 -22 0ZM127.48 1379.53a11 11 0 1 0 22 0a11 11 0 1 0 -22 0ZM127.48 1374.78a11 11 0 1 0 22 0a11 11 0 1 0 -22 0ZM127.48 1370.02a11 11 0 1 0 22 0a11 11 0 1 0 -22 0ZM127.48 1365.27a11 11 0 1 0 22 0a11 11 0 1 0 -22 0ZM127.48 1360.51a11 11 0 1 0 22 0a11 11 0 1 0 -22 0ZM127.48 1357.34a11 11 0 1 0 22 0a11 11 0 1 0 -22 0ZM130.5 1395.39a11 11 0 1 0 22 0a11 11 0 1 0 -22 0ZM130.5 1390.63a11 11 0 1 0 22 0a11 11 0 1 0 -22 0ZM130.5 1385.88a11 11 0 1 0 22 0a11 11 0 1 0 -22 0ZM130.5 1381.12a11 11 0 1 0 22 0a11 11 0 1 0 -22 0ZM130.5 1376.36a11 11 0 1 0 22 0a11 11 0 1 0 -22 0ZM130.5 1371.61a11 11 0 1 0 22 0a11 11 0 1 0 -22 0ZM130.5 1366.85a11 11 0 1 0 22 0a11 11 0 1 0 -22 0ZM130.5 1362.09a11 11 0 1 0 22 0a11 11 0 1 0 -22 0ZM130.5 1357.34a11 11 0 1 0 22 0a11 11 0 1 0 -22 0ZM133.52 1392.22a11 11 0 1 0 22 0a11 11 0 1 0 -22 0ZM133.52 1387.46a11 11 0 1 0 22 0a11 11 0 1 0 -22 0ZM133.52 1382.71a11 11 0 1 0 22 0a11 11 0 1 0 -22 0ZM133.52 1377.95a11 11 0 1 0 22 0a11 11 0 1 0 -22 0ZM133.52 1373.19a11 11 0 1 0 22 0a11 11 0 1 0 -22 0ZM133.52 1368.44a11 11 0 1 0 22 0a11 11 0 1 0 -22 0ZM133.52 1363.68a11 11 0 1 0 22 0a11 11 0 1 0 -22 0ZM133.52 1358.92a11 11 0 1 0 22 0a11 11 0 1 0 -22 0ZM133.52 1357.34a11 11 0 1 0 22 0a11 11 0 1 0 -22 0ZM136.54 1389.05a11 11 0 1 0 22 0a11 11 0 1 0 -22 0ZM136.54 1384.29a11 11 0 1 0 22 0a11 11 0 1 0 -22 0ZM136.54 1379.53a11 11 0 1 0 22 0a11 11 0 1 0 -22 0ZM136.54 1374.78a11 11 0 1 0 22 0a11 11 0 1 0 -22 0ZM136.54 1370.02a11 11 0 1 0 22 0a11 11 0 1 0 -22 0ZM136.54 1365.27a11 11 0 1 0 22 0a11 11 0 1 0 -22 0ZM136.54 1360.51a11 11 0 1 0 22 0a11 11 0 1 0 -22 0ZM136.54 1357.34a11 11 0 1 0 22 0a11 11 0 1 0 -22 0ZM139.56 1385.88a11 11 0 1 0 22 0a11 11 0 1 0 -22 0ZM139.56 1381.12a11 11 0 1 0 22 0a11 11 0 1 0 -22 0ZM139.56 1376.36a11 11 0 1 0 22 0a11 11 0 1 0 -22 0ZM139.56 1371.61a11 11 0 1 0 22 0a11 11 0 1 0 -22 0ZM139.56 1366.85a11 11 0 1 0 22 0a11 11 0 1 0 -22 0ZM139.56 1362.09a11 11 0 1 0 22 0a11 11 0 1 0 -22 0ZM139.56 1357.34a11 11 0 1 0 22 0a11 11 0 1 0 -22 0ZM142.58 1382.71a11 11 0 1 0 22 0a11 11 0 1 0 -22 0ZM142.58 1377.95a11 11 0 1 0 22 0a11 11 0 1 0 -22 0ZM142.58 1373.19a11 11 0 1 0 22 0a11 11 0 1 0 -22 0ZM142.58 1368.44a11 11 0 1 0 22 0a11 11 0 1 0 -22 0ZM142.58 1363.68a11 11 0 1 0 22 0a11 11 0 1 0 -22 0ZM142.58 1360.51a11 11 0 1 0 22 0a11 11 0 1 0 -22 0ZM145.6 1379.53a11 11 0 1 0 22 0a11 11 0 1 0 -22 0ZM145.6 1374.78a11 11 0 1 0 22 0a11 11 0 1 0 -22 0ZM145.6 1370.02a11 11 0 1 0 22 0a11 11 0 1 0 -22 0ZM145.6 1365.27a11 11 0 1 0 22 0a11 11 0 1 0 -22 0ZM145.6 1360.51a11 11 0 1 0 22 0a11 11 0 1 0 -22 0ZM148.62 1376.36a11 11 0 1 0 22 0a11 11 0 1 0 -22 0ZM148.62 1371.61a11 11 0 1 0 22 0a11 11 0 1 0 -22 0ZM148.62 1366.85a11 11 0 1 0 22 0a11 11 0 1 0 -22 0ZM148.62 1362.09a11 11 0 1 0 22 0a11 11 0 1 0 -22 0ZM148.62 1360.51a11 11 0 1 0 22 0a11 11 0 1 0 -22 0ZM151.64 1373.19a11 11 0 1 0 22 0a11 11 0 1 0 -22 0ZM151.64 1368.44a11 11 0 1 0 22 0a11 11 0 1 0 -22 0ZM151.64 1363.68a11 11 0 1 0 22 0a11 11 0 1 0 -22 0ZM151.64 1360.51a11 11 0 1 0 22 0a11 11 0 1 0 -22 0ZM154.66 1365.27a11 11 0 1 0 22 0a11 11 0 1 0 -22 0ZM154.66 1360.51a11 11 0 1 0 22 0a11 11 0 1 0 -22 0ZM157.68 1363.68a11 11 0 1 0 22 0a11 11 0 1 0 -22 0ZM157.68 1358.92a11 11 0 1 0 22 0a11 11 0 1 0 -22 0ZM157.68 1354.17a11 11 0 1 0 22 0a11 11 0 1 0 -22 0ZM160.7 1359.45a11 11 0 1 0 22 0a11 11 0 1 0 -22 0ZM160.7 1354.7a11 11 0 1 0 22 0a11 11 0 1 0 -22 0ZM160.7 1354.17a11 11 0 1 0 22 0a11 11 0 1 0 -22 0ZM163.72 1355.22a11 11 0 1 0 22 0a11 11 0 1 0 -22 0ZM163.72 1354.17a11 11 0 1 0 22 0a11 11 0 1 0 -22 0ZM166.74 1354.17a11 11 0 1 0 22 0a11 11 0 1 0 -22 0ZM169.76 1351a11 11 0 1 0 22 0a11 11 0 1 0 -22 0ZM169.76 1346.24a11 11 0 1 0 22 0a11 11 0 1 0 -22 0ZM169.76 1341.48a11 11 0 1 0 22 0a11 11 0 1 0 -22 0ZM169.76 1336.73a11 11 0 1 0 22 0a11 11 0 1 0 -22 0ZM169.76 1331.97a11 11 0 1 0 22 0a11 11 0 1 0 -22 0ZM169.76 1328.8a11 11 0 1 0 22 0a11 11 0 1 0 -22 0ZM172.78 1346.24a11 11 0 1 0 22 0a11 11 0 1 0 -22 0ZM172.78 1341.48a11 11 0 1 0 22 0a11 11 0 1 0 -22 0ZM172.78 1336.73a11 11 0 1 0 22 0a11 11 0 1 0 -22 0ZM172.78 1331.97a11 11 0 1 0 22 0a11 11 0 1 0 -22 0ZM172.78 1328.8a11 11 0 1 0 22 0a11 11 0 1 0 -22 0ZM175.8 1347.82a11 11 0 1 0 22 0a11 11 0 1 0 -22 0ZM175.8 1343.07a11 11 0 1 0 22 0a11 11 0 1 0 -22 0ZM175.8 1338.31a11 11 0 1 0 22 0a11 11 0 1 0 -22 0ZM175.8 1333.56a11 11 0 1 0 22 0a11 11 0 1 0 -22 0ZM175.8 1328.8a11 11 0 1 0 22 0a11 11 0 1 0 -22 0ZM178.82 1344.65a11 11 0 1 0 22 0a11 11 0 1 0 -22 0ZM178.82 1339.9a11 11 0 1 0 22 0a11 11 0 1 0 -22 0ZM178.82 1335.14a11 11 0 1 0 22 0a11 11 0 1 0 -22 0ZM178.82 1330.38a11 11 0 1 0 22 0a11 11 0 1 0 -22 0ZM178.82 1328.8a11 11 0 1 0 22 0a11 11 0 1 0 -22 0ZM181.84 1336.73a11 11 0 1 0 22 0a11 11 0 1 0 -22 0ZM181.84 1331.97a11 11 0 1 0 22 0a11 11 0 1 0 -22 0ZM181.84 1328.8a11 11 0 1 0 22 0a11 11 0 1 0 -22 0ZM184.86 1335.14a11 11 0 1 0 22 0a11 11 0 1 0 -22 0ZM184.86 1330.38a11 11 0 1 0 22 0a11 11 0 1 0 -22 0ZM184.86 1328.8a11 11 0 1 0 22 0a11 11 0 1 0 -22 0ZM190.9 1328.8a11 11 0 1 0 22 0a11 11 0 1 0 -22 0ZM193.92 1320.34a11 11 0 1 0 22 0a11 11 0 1 0 -22 0ZM193.92 1316.12a11 11 0 1 0 22 0a11 11 0 1 0 -22 0Z"/>
<path fill="#f00" d="M103.32 1011.7a11 11 0 1 0 22 0a11 11 0 1 0 -22 0ZM106.34 1011.7a11 11 0 1 0 22 0a11 11 0 1 0 -22 0ZM109.36 1011.7a11 11 0 1 0 22 0a11 11 0 1 0 -22 0ZM115.4 1011.7a11 11 0 1 0 22 0a11 11 0 1 0 -22 0ZM121.44 1011.7a11 11 0 1 0 22 0a11 11 0 1 0 -22 0ZM124.46 1011.7a11 11 0 1 0 22 0a11 11 0 1 0 -22 0ZM148.62 1011.7a11 11 0 1 0 22 0a11 11 0 1 0 -22 0ZM151.64 1011.7a11 11 0 1 0 22 0a11 11 0 1 0 -22 0ZM305.66 1011.7a11 11 0 1 0 22 0a11 11 0 1 0 -22 0Z"/>
<line x1="111.3" y1="1427.1" x2="715.3" y2="792.9" stroke="#000" stroke-width="3.1" stroke-dasharray="12.6 14.05" stroke-dashoffset="0"/>
<path fill="#000" d="M1434.41 862.66a11 11 0 1 0 22 0a11 11 0 1 0 -22 0ZM1313.59 995.84a11 11 0 1 0 22 0a11 11 0 1 0 -22 0ZM1171.63 1214.64a11 11 0 1 0 22 0a11 11 0 1 0 -22 0ZM1059.87 1233.67a11 11 0 1 0 22 0a11 11 0 1 0 -22 0ZM1017.58 1274.89a11 11 0 1 0 22 0a11 11 0 1 0 -22 0ZM1005.5 1293.92a11 11 0 1 0 22 0a11 11 0 1 0 -22 0ZM1053.83 1290.75a11 11 0 1 0 22 0a11 11 0 1 0 -22 0ZM1105.18 1300.26a11 11 0 1 0 22 0a11 11 0 1 0 -22 0ZM1023.62 1338.31a11 11 0 1 0 22 0a11 11 0 1 0 -22 0ZM999.46 1338.31a11 11 0 1 0 22 0a11 11 0 1 0 -22 0ZM996.44 1312.94a11 11 0 1 0 22 0a11 11 0 1 0 -22 0ZM1102.16 1411.24a11 11 0 1 0 22 0a11 11 0 1 0 -22 0ZM878.64 1341.48a11 11 0 1 0 22 0a11 11 0 1 0 -22 0ZM945.09 1351a11 11 0 1 0 22 0a11 11 0 1 0 -22 0ZM954.15 1341.48a11 11 0 1 0 22 0a11 11 0 1 0 -22 0ZM963.22 1335.14a11 11 0 1 0 22 0a11 11 0 1 0 -22 0ZM978.32 1325.63a11 11 0 1 0 22 0a11 11 0 1 0 -22 0ZM969.26 1344.65a11 11 0 1 0 22 0a11 11 0 1 0 -22 0ZM987.38 1328.8a11 11 0 1 0 22 0a11 11 0 1 0 -22 0ZM966.24 1366.85a11 11 0 1 0 22 0a11 11 0 1 0 -22 0ZM969.26 1357.34a11 11 0 1 0 22 0a11 11 0 1 0 -22 0ZM972.28 1344.65a11 11 0 1 0 22 0a11 11 0 1 0 -22 0ZM933.01 1366.85a11 11 0 1 0 22 0a11 11 0 1 0 -22 0ZM936.03 1363.68a11 11 0 1 0 22 0a11 11 0 1 0 -22 0ZM939.05 1360.51a11 11 0 1 0 22 0a11 11 0 1 0 -22 0ZM942.07 1357.34a11 11 0 1 0 22 0a11 11 0 1 0 -22 0ZM945.09 1360.51a11 11 0 1 0 22 0a11 11 0 1 0 -22 0ZM948.11 1354.17a11 11 0 1 0 22 0a11 11 0 1 0 -22 0ZM951.13 1351a11 11 0 1 0 22 0a11 11 0 1 0 -22 0ZM954.15 1347.82a11 11 0 1 0 22 0a11 11 0 1 0 -22 0ZM957.17 1344.65a11 11 0 1 0 22 0a11 11 0 1 0 -22 0ZM960.19 1341.48a11 11 0 1 0 22 0a11 11 0 1 0 -22 0ZM951.13 1363.68a11 11 0 1 0 22 0a11 11 0 1 0 -22 0ZM957.17 1357.34a11 11 0 1 0 22 0a11 11 0 1 0 -22 0ZM963.22 1351a11 11 0 1 0 22 0a11 11 0 1 0 -22 0ZM972.28 1338.31a11 11 0 1 0 22 0a11 11 0 1 0 -22 0ZM972.28 1331.97a11 11 0 1 0 22 0a11 11 0 1 0 -22 0ZM966.24 1341.48a11 11 0 1 0 22 0a11 11 0 1 0 -22 0ZM960.19 1354.17a11 11 0 1 0 22 0a11 11 0 1 0 -22 0ZM954.15 1360.51a11 11 0 1 0 22 0a11 11 0 1 0 -22 0ZM942.07 1401.73a11 11 0 1 0 22 0a11 11 0 1 0 -22 0ZM939.05 1420.76a11 11 0 1 0 22 0a11 11 0 1 0 -22 0ZM948.11 1427.1a11 11 0 1 0 22 0a11 11 0 1 0 -22 0ZM957.17 1408.07a11 11 0 1 0 22 0a11 11 0 1 0 -22 0ZM942.07 1389.05a11 11 0 1 0 22 0a11 11 0 1 0 -22 0ZM939.05 1373.19a11 11 0 1 0 22 0a11 11 0 1 0 -22 0ZM875.62 1427.1a11 11 0 1 0 22 0a11 11 0 1 0 -22 0ZM875.62 1422.34a11 11 0 1 0 22 0a11 11 0 1 0 -22 0ZM875.62 1417.59a11 11 0 1 0 22 0a11 11 0 1 0 -22 0ZM875.62 1412.83a11 11 0 1 0 22 0a11 11 0 1 0 -22 0ZM875.62 1408.07a11 11 0 1 0 22 0a11 11 0 1 0 -22 0ZM875.62 1403.32a11 11 0 1 0 22 0a11 11 0 1 0 -22 0ZM875.62 1398.56a11 11 0 1 0 22 0a11 11 0 1 0 -22 0ZM878.64 1427.1a11 11 0 1 0 22 0a11 11 0 1 0 -22 0ZM878.64 1422.34a11 11 0 1 0 22 0a11 11 0 1 0 -22 0ZM878.64 1417.59a11 11 0 1 0 22 0a11 11 0 1 0 -22 0ZM878.64 1412.83a11 11 0 1 0 22 0a11 11 0 1 0 -22 0ZM878.64 1408.07a11 11 0 1 0 22 0a11 11 0 1 0 -22 0ZM878.64 1403.32a11 11 0 1 0 22 0a11 11 0 1 0 -22 0ZM878.64 1398.56a11 11 0 1 0 22 0a11 11 0 1 0 -22 0ZM881.66 1427.1a11 11 0 1 0 22 0a11 11 0 1 0 -22 0ZM881.66 1422.34a11 11 0 1 0 22 0a11 11 0 1 0 -22 0ZM881.66 1417.59a11 11 0 1 0 22 0a11 11 0 1 0 -22 0ZM881.66 1412.83a11 11 0 1 0 22 0a11 11 0 1 0 -22 0ZM881.66 1408.07a11 11 0 1 0 22 0a11 11 0 1 0 -22 0ZM881.66 1403.32a11 11 0 1 0 22 0a11 11 0 1 0 -22 0ZM881.66 1398.56a11 11 0 1 0 22 0a11 11 0 1 0 -22 0ZM884.68 1427.1a11 11 0 1 0 22 0a11 11 0 1 0 -22 0ZM884.68 1422.34a11 11 0 1 0 22 0a11 11 0 1 0 -22 0ZM884.68 1417.59a11 11 0 1 0 22 0a11 11 0 1 0 -22 0ZM884.68 1412.83a11 11 0 1 0 22 0a11 11 0 1 0 -22 0ZM884.68 1408.07a11 11 0 1 0 22 0a11 11 0 1 0 -22 0ZM884.68 1403.32a11 11 0 1 0 22 0a11 11 0 1 0 -22 0ZM884.68 1398.56a11 11 0 1 0 22 0a11 11 0 1 0 -22 0ZM887.7 1427.1a11 11 0 1 0 22 0a11 11 0 1 0 -22 0ZM887.7 1422.34a11 11 0 1 0 22 0a11 11 0 1 0 -22 0ZM887.7 1417.59a11 11 0 1 0 22 0a11 11 0 1 0 -22 0ZM887.7 1412.83a11 11 0 1 0 22 0a11 11 0 1 0 -22 0ZM887.7 1408.07a11 11 0 1 0 22 0a11 11 0 1 0 -22 0ZM887.7 1403.32a11 11 0 1 0 22 0a11 11 0 1 0 -22 0ZM887.7 1398.56a11 11 0 1 0 22 0a11 11 0 1 0 -22 0ZM890.72 1427.1a11 11 0 1 0 22 0a11 11 0 1 0 -22 0ZM890.72 1422.34a11 11 0 1 0 22 0a11 11 0 1 0 -22 0ZM890.72 1417.59a11 11 0 1 0 22 0a11 11 0 1 0 -22 0ZM890.72 1412.83a11 11 0 1 0 22 0a11 11 0 1 0 -22 0ZM890.72 1408.07a11 11 0 1 0 22 0a11 11 0 1 0 -22 0ZM890.72 1403.32a11 11 0 1 0 22 0a11 11 0 1 0 -22 0ZM890.72 1398.56a11 11 0 1 0 22 0a11 11 0 1 0 -22 0ZM893.74 1427.1a11 11 0 1 0 22 0a11 11 0 1 0 -22 0ZM893.74 1422.34a11 11 0 1 0 22 0a11 11 0 1 0 -22 0ZM893.74 1417.59a11 11 0 1 0 22 0a11 11 0 1 0 -22 0ZM893.74 1412.83a11 11 0 1 0 22 0a11 11 0 1 0 -22 0ZM893.74 1408.07a11 11 0 1 0 22 0a11 11 0 1 0 -22 0ZM893.74 1403.32a11 11 0 1 0 22 0a11 11 0 1 0 -22 0ZM893.74 1398.56a11 11 0 1 0 22 0a11 11 0 1 0 -22 0ZM896.76 1427.1a11 11 0 1 0 22 0a11 11 0 1 0 -22 0ZM896.76 1422.34a11 11 0 1 0 22 0a11 11 0 1 0 -22 0ZM896.76 1417.59a11 11 0 1 0 22 0a11 11 0 1 0 -22 0ZM896.76 1412.83a11 11 0 1 0 22 0a11 11 0 1 0 -22 0ZM896.76 1408.07a11 11 0 1 0 22 0a11 11 0 1 0 -22 0ZM896.76 1403.32a11 11 0 1 0 22 0a11 11 0 1 0 -22 0ZM896.76 1398.56a11 11 0 1 0 22 0a11 11 0 1 0 -22 0ZM899.78 1427.1a11 11 0 1 0 22 0a11 11 0 1 0 -22 0ZM899.78 1422.34a11 11 0 1 0 22 0a11 11 0 1 0 -22 0ZM899.78 1417.59a11 11 0 1 0 22 0a11 11 0 1 0 -22 0ZM899.78 1412.83a11 11 0 1 0 22 0a11 11 0 1 0 -22 0ZM899.78 1408.07a11 11 0 1 0 22 0a11 11 0 1 0 -22 0ZM899.78 1403.32a11 11 0 1 0 22 0a11 11 0 1 0 -22 0ZM899.78 1398.56a11 11 0 1 0 22 0a11 11 0 1 0 -22 0ZM902.81 1427.1a11 11 0 1 0 22 0a11 11 0 1 0 -22 0ZM902.81 1422.34a11 11 0 1 0 22 0a11 11 0 1 0 -22 0ZM902.81 1417.59a11 11 0 1 0 22 0a11 11 0 1 0 -22 0ZM902.81 1412.83a11 11 0 1 0 22 0a11 11 0 1 0 -22 0ZM902.81 1408.07a11 11 0 1 0 22 0a11 11 0 1 0 -22 0ZM902.81 1403.32a11 11 0 1 0 22 0a11 11 0 1 0 -22 0ZM902.81 1398.56a11 11 0 1 0 22 0a11 11 0 1 0 -22 0ZM905.83 1427.1a11 11 0 1 0 22 0a11 11 0 1 0 -22 0ZM905.83 1422.34a11 11 0 1 0 22 0a11 11 0 1 0 -22 0ZM905.83 1417.59a11 11 0 1 0 22 0a11 11 0 1 0 -22 0ZM905.83 1412.83a11 11 0 1 0 22 0a11 11 0 1 0 -22 0ZM905.83 1408.07a11 11 0 1 0 22 0a11 11 0 1 0 -22 0ZM905.83 1403.32a11 11 0 1 0 22 0a11 11 0 1 0 -22 0ZM905.83 1398.56a11 11 0 1 0 22 0a11 11 0 1 0 -22 0ZM908.85 1417.59a11 11 0 1 0 22 0a11 11 0 1 0 -22 0ZM908.85 1412.83a11 11 0 1 0 22 0a11 11 0 1 0 -22 0ZM908.85 1408.07a11 11 0 1 0 22 0a11 11 0 1 0 -22 0ZM908.85 1403.32a11 11 0 1 0 22 0a11 11 0 1 0 -22 0ZM908.85 1398.56a11 11 0 1 0 22 0a11 11 0 1 0 -22 0ZM911.87 1417.59a11 11 0 1 0 22 0a11 11 0 1 0 -22 0ZM911.87 1412.83a11 11 0 1 0 22 0a11 11 0 1 0 -22 0ZM911.87 1408.07a11 11 0 1 0 22 0a11 11 0 1 0 -22 0ZM911.87 1403.32a11 11 0 1 0 22 0a11 11 0 1 0 -22 0ZM911.87 1398.56a11 11 0 1 0 22 0a11 11 0 1 0 -22 0ZM914.89 1417.59a11 11 0 1 0 22 0a11 11 0 1 0 -22 0ZM914.89 1412.83a11 11 0 1 0 22 0a11 11 0 1 0 -22 0ZM914.89 1408.07a11 11 0 1 0 22 0a11 11 0 1 0 -22 0ZM914.89 1403.32a11 11 0 1 0 22 0a11 11 0 1 0 -22 0ZM914.89 1398.56a11 11 0 1 0 22 0a11 11 0 1 0 -22 0ZM917.91 1417.59a11 11 0 1 0 22 0a11 11 0 1 0 -22 0ZM917.91 1412.83a11 11 0 1 0 22 0a11 11 0 1 0 -22 0ZM917.91 1408.07a11 11 0 1 0 22 0a11 11 0 1 0 -22 0ZM917.91 1403.32a11 11 0 1 0 22 0a11 11 0 1 0 -22 0ZM917.91 1398.56a11 11 0 1 0 22 0a11 11 0 1 0 -22 0ZM875.62 1423.93a11 11 0 1 0 22 0a11 11 0 1 0 -22 0ZM877.89 1421.55a11 11 0 1 0 22 0a11 11 0 1 0 -22 0ZM880.15 1419.17a11 11 0 1 0 22 0a11 11 0 1 0 -22 0ZM882.42 1416.79a11 11 0 1 0 22 0a11 11 0 1 0 -22 0ZM884.68 1414.42a11 11 0 1 0 22 0a11 11 0 1 0 -22 0ZM886.95 1412.04a11 11 0 1 0 22 0a11 11 0 1 0 -22 0ZM889.21 1409.66a11 11 0 1 0 22 0a11 11 0 1 0 -22 0ZM891.48 1407.28a11 11 0 1 0 22 0a11 11 0 1 0 -22 0ZM893.74 1404.9a11 11 0 1 0 22 0a11 11 0 1 0 -22 0ZM896.01 1402.52a11 11 0 1 0 22 0a11 11 0 1 0 -22 0ZM898.27 1400.15a11 11 0 1 0 22 0a11 11 0 1 0 -22 0ZM900.54 1397.77a11 11 0 1 0 22 0a11 11 0 1 0 -22 0ZM902.81 1395.39a11 11 0 1 0 22 0a11 11 0 1 0 -22 0ZM905.07 1393.01a11 11 0 1 0 22 0a11 11 0 1 0 -22 0ZM907.34 1390.63a11 11 0 1 0 22 0a11 11 0 1 0 -22 0ZM909.6 1388.26a11 11 0 1 0 22 0a11 11 0 1 0 -22 0ZM911.87 1385.88a11 11 0 1 0 22 0a11 11 0 1 0 -22 0ZM914.13 1383.5a11 11 0 1 0 22 0a11 11 0 1 0 -22 0ZM916.4 1381.12a11 11 0 1 0 22 0a11 11 0 1 0 -22 0ZM918.66 1378.74a11 11 0 1 0 22 0a11 11 0 1 0 -22 0ZM920.93 1376.36a11 11 0 1 0 22 0a11 11 0 1 0 -22 0ZM923.19 1373.99a11 11 0 1 0 22 0a11 11 0 1 0 -22 0ZM925.46 1371.61a11 11 0 1 0 22 0a11 11 0 1 0 -22 0ZM905.83 1395.39a11 11 0 1 0 22 0a11 11 0 1 0 -22 0ZM908.85 1395.39a11 11 0 1 0 22 0a11 11 0 1 0 -22 0ZM911.87 1395.39a11 11 0 1 0 22 0a11 11 0 1 0 -22 0ZM914.89 1395.39a11 11 0 1 0 22 0a11 11 0 1 0 -22 0ZM905.83 1392.22a11 11 0 1 0 22 0a11 11 0 1 0 -22 0ZM908.85 1392.22a11 11 0 1 0 22 0a11 11 0 1 0 -22 0ZM911.87 1392.22a11 11 0 1 0 22 0a11 11 0 1 0 -22 0ZM914.89 1392.22a11 11 0 1 0 22 0a11 11 0 1 0 -22 0ZM908.85 1389.05a11 11 0 1 0 22 0a11 11 0 1 0 -22 0ZM911.87 1389.05a11 11 0 1 0 22 0a11 11 0 1 0 -22 0ZM914.89 1389.05a11 11 0 1 0 22 0a11 11 0 1 0 -22 0ZM917.91 1389.05a11 11 0 1 0 22 0a11 11 0 1 0 -22 0ZM920.93 1389.05a11 11 0 1 0 22 0a11 11 0 1 0 -22 0ZM923.95 1389.05a11 11 0 1 0 22 0a11 11 0 1 0 -22 0ZM926.97 1389.05a11 11 0 1 0 22 0a11 11 0 1 0 -22 0ZM929.99 1389.05a11 11 0 1 0 22 0a11 11 0 1 0 -22 0ZM933.01 1389.05a11 11 0 1 0 22 0a11 11 0 1 0 -22 0ZM936.03 1389.05a11 11 0 1 0 22 0a11 11 0 1 0 -22 0ZM914.89 1385.88a11 11 0 1 0 22 0a11 11 0 1 0 -22 0ZM917.91 1385.88a11 11 0 1 0 22 0a11 11 0 1 0 -22 0ZM920.93 1385.88a11 11 0 1 0 22 0a11 11 0 1 0 -22 0ZM923.95 1385.88a11 11 0 1 0 22 0a11 11 0 1 0 -22 0ZM926.97 1385.88a11 11 0 1 0 22 0a11 11 0 1 0 -22 0ZM929.99 1385.88a11 11 0 1 0 22 0a11 11 0 1 0 -22 0ZM933.01 1385.88a11 11 0 1 0 22 0a11 11 0 1 0 -22 0ZM936.03 1385.88a11 11 0 1 0 22 0a11 11 0 1 0 -22 0ZM914.89 1382.71a11 11 0 1 0 22 0a11 11 0 1 0 -22 0ZM917.91 1382.71a11 11 0 1 0 22 0a11 11 0 1 0 -22 0ZM920.93 1382.71a11 11 0 1 0 22 0a11 11 0 1 0 -22 0ZM923.95 1382.71a11 11 0 1 0 22 0a11 11 0 1 0 -22 0ZM926.97 1382.71a11 11 0 1 0 22 0a11 11 0 1 0 -22 0ZM929.99 1382.71a11 11 0 1 0 22 0a11 11 0 1 0 -22 0ZM933.01 1382.71a11 11 0 1 0 22 0a11 11 0 1 0 -22 0ZM936.03 1382.71a11 11 0 1 0 22 0a11 11 0 1 0 -22 0ZM917.91 1379.53a11 11 0 1 0 22 0a11 11 0 1 0 -22 0ZM920.93 1379.53a11 11 0 1 0 22 0a11 11 0 1 0 -22 0ZM923.95 1379.53a11 11 0 1 0 22 0a11 11 0 1 0 -22 0ZM926.97 1379.53a11 11 0 1 0 22 0a11 11 0 1 0 -22 0ZM929.99 1379.53a11 11 0 1 0 22 0a11 11 0 1 0 -22 0ZM933.01 1379.53a11 11 0 1 0 22 0a11 11 0 1 0 -22 0ZM936.03 1379.53a11 11 0 1 0 22 0a11 11 0 1 0 -22 0ZM923.95 1376.36a11 11 0 1 0 22 0a11 11 0 1 0 -22 0ZM926.97 1376.36a11 11 0 1 0 22 0a11 11 0 1 0 -22 0ZM929.99 1376.36a11 11 0 1 0 22 0a11 11 0 1 0 -22 0ZM933.01 1376.36a11 11 0 1 0 22 0a11 11 0 1 0 -22 0ZM936.03 1376.36a11 11 0 1 0 22 0a11 11 0 1 0 -22 0ZM923.95 1373.19a11 11 0 1 0 22 0a11 11 0 1 0 -22 0ZM926.97 1373.19a11 11 0 1 0 22 0a11 11 0 1 0 -22 0ZM929.99 1373.19a11 11 0 1 0 22 0a11 11 0 1 0 -22 0ZM933.01 1373.19a11 11 0 1 0 22 0a11 11 0 1 0 -22 0ZM936.03 1373.19a11 11 0 1 0 22 0a11 11 0 1 0 -22 0ZM926.97 1370.02a11 11 0 1 0 22 0a11 11 0 1 0 -22 0ZM929.99 1370.02a11 11 0 1 0 22 0a11 11 0 1 0 -22 0ZM951.13 1347.82a11 11 0 1 0 22 0a11 11 0 1 0 -22 0ZM960.19 1338.31a11 11 0 1 0 22 0a11 11 0 1 0 -22 0ZM957.17 1347.82a11 11 0 1 0 22 0a11 11 0 1 0 -22 0ZM963.22 1344.65a11 11 0 1 0 22 0a11 11 0 1 0 -22 0ZM975.3 1335.14a11 11 0 1 0 22 0a11 11 0 1 0 -22 0ZM981.34 1322.46a11 11 0 1 0 22 0a11 11 0 1 0 -22 0ZM990.4 1322.46a11 11 0 1 0 22 0a11 11 0 1 0 -22 0ZM984.36 1335.14a11 11 0 1 0 22 0a11 11 0 1 0 -22 0Z"/>
<path fill="#f00" d="M1268.29 1211.47a11 11 0 1 0 22 0a11 11 0 1 0 -22 0Z"/>
<line x1="883.6" y1="1427.1" x2="1487.7" y2="792.9" stroke="#000" stroke-width="3.1" stroke-dasharray="12.6 14.05" stroke-dashoffset="0"/>
<text transform="translate(413.3 732) scale(1 1.04)" text-anchor="middle" font-size="34.4" fill="#262626">Standard Cluster Size</text>
<text transform="translate(1185.6 732) scale(1 1.04)" text-anchor="middle" font-size="34.4" fill="#262626">BRILIA Cluster Size</text>
<text transform="translate(413.3 1510.4) scale(1 1.04)" text-anchor="middle" font-size="34.4" fill="#262626">Standard Cluster Size</text>
<text transform="translate(1185.65 1510.4) scale(1 1.04)" text-anchor="middle" font-size="34.4" fill="#262626">BRILIA Cluster Size</text>
<text transform="translate(45.4 331.4) rotate(-90) scale(1 1.04)" text-anchor="middle" font-size="34.4" fill="#262626"># of Assoc. BRILIA Clusters</text>
<text transform="translate(817.8 331.4) rotate(-90) scale(1 1.04)" text-anchor="middle" font-size="34.4" fill="#262626"># of Assoc. Standard Clusters</text>
<text transform="translate(27.9 1110) rotate(-90) scale(1 1.04)" text-anchor="middle" font-size="34.4" fill="#262626">Largest Assoc. BRILIA Cluster Size</text>
<text transform="translate(800.1 1110) rotate(-90) scale(1 1.04)" text-anchor="middle" font-size="34.4" fill="#262626">Largest Assoc. Standard Cluster Size</text>
<g font-size="34" font-weight="bold" fill="#000">
<text transform="translate(5.3 28.9) scale(1 1.03)">A</text>
<text transform="translate(775.2 28.7) scale(1 1.03)">B</text>
<text transform="translate(5.1 757.2) scale(1 1.03)">C</text>
<text transform="translate(774.2 757.6) scale(1 1.03)">D</text>
</g>
<text transform="translate(1066 132.3) scale(1 1.04)" font-size="41.7" fill="#f00">Tree example in Fig 6</text>
</svg></body></html>
